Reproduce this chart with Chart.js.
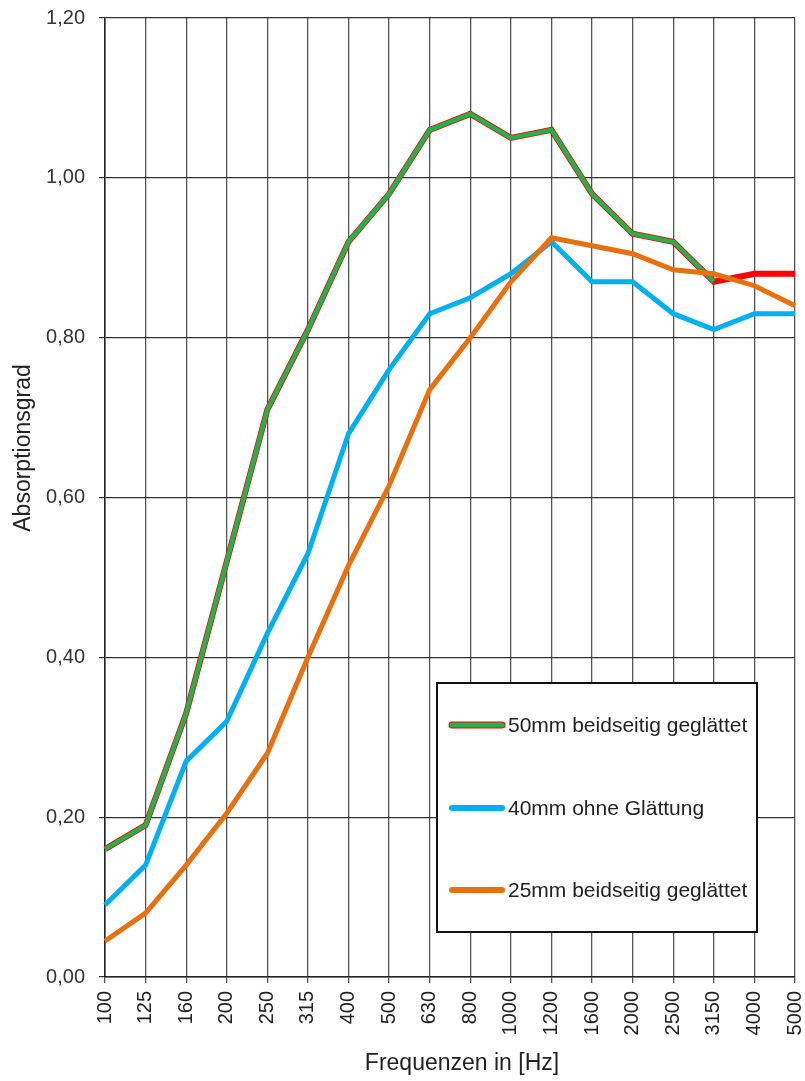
<!DOCTYPE html>
<html lang="de">
<head>
    <meta charset="UTF-8">
    <title>Absorptionsgrad</title>
    <script src="https://cdn.jsdelivr.net/npm/chart.js"></script>
    <style>
        body { margin: 0; padding: 0; background: #ffffff; }
        #wrap { width: 805px; height: 1081px; position: relative; }
    </style>
</head>
<body>
    <div id="wrap"><canvas id="absChart"></canvas></div>

    <script>
        // Data
        const frequencies = ['100', '125', '160', '200', '250', '315', '400', '500', '630', '800',
                             '1000', '1200', '1600', '2000', '2500', '3150', '4000', '5000'];
        const values50green = [0.16, 0.19, 0.33, 0.52, 0.71, 0.81, 0.92, 0.98, 1.06, 1.08,
                               1.05, 1.06, 0.98, 0.93, 0.92, 0.87, null, null];
        const values50red = [0.16, 0.19, 0.33, 0.52, 0.71, 0.81, 0.92, 0.98, 1.06, 1.08,
                             1.05, 1.06, 0.98, 0.93, 0.92, 0.87, 0.88, 0.88];
        const values40 = [0.09, 0.14, 0.27, 0.32, 0.43, 0.53, 0.68, 0.76, 0.83, 0.85,
                          0.88, 0.92, 0.87, 0.87, 0.83, 0.81, 0.83, 0.83];
        const values25 = [0.045, 0.08, 0.14, 0.205, 0.28, 0.40, 0.515, 0.615, 0.735, 0.80,
                          0.87, 0.925, 0.915, 0.905, 0.885, 0.88, 0.865, 0.84];
        const legendLabels = ['50mm beidseitig geglättet', '40mm ohne Glättung', '25mm beidseitig geglättet'];
        const xTitle = 'Frequenzen in [Hz]';
        const yTitle = 'Absorptionsgrad';

        const fontFamily = "'Liberation Sans', Arial, sans-serif";

        // Legend box + axis titles, drawn by hand (positions as in the original)
        const extras = {
            id: 'extras',
            afterDatasetsDraw(chart) {
                const ctx = chart.ctx;
                const x = 437, y = 683, w = 320, h = 249;
                ctx.save();
                ctx.fillStyle = '#ffffff';
                ctx.fillRect(x, y, w, h);
                ctx.strokeStyle = '#111111';
                ctx.lineWidth = 2;
                ctx.strokeRect(x, y, w, h);

                const rows = [
                    { y: 725, colors: ['#ff0000', '#22b14c'], widths: [7, 5] },
                    { y: 808, colors: ['#00b0f0'], widths: [6] },
                    { y: 890, colors: ['#e8700e'], widths: [6] }
                ];
                ctx.lineCap = 'round';
                rows.forEach((r, i) => {
                    r.colors.forEach((c, j) => {
                        ctx.strokeStyle = c;
                        ctx.lineWidth = r.widths[j];
                        ctx.beginPath();
                        ctx.moveTo(452, r.y);
                        ctx.lineTo(502, r.y);
                        ctx.stroke();
                    });
                    ctx.fillStyle = '#222222';
                    ctx.font = '21px ' + fontFamily;
                    ctx.textBaseline = 'middle';
                    ctx.textAlign = 'left';
                    ctx.fillText(legendLabels[i], 508, r.y + 1);
                });
                ctx.restore();
            },
            afterDraw(chart) {
                const ctx = chart.ctx;
                ctx.save();
                ctx.fillStyle = '#222222';
                ctx.font = '23px ' + fontFamily;
                ctx.textAlign = 'center';
                ctx.textBaseline = 'middle';
                ctx.fillText(xTitle, 462, 1064);
                ctx.translate(24, 448);
                ctx.rotate(-Math.PI / 2);
                ctx.fillText(yTitle, 0, 0);
                ctx.restore();
            }
        };

        const chartContext = document.getElementById('absChart').getContext('2d');
        const absChart = new Chart(chartContext, {
            type: 'line',
            data: {
                labels: frequencies,
                datasets: [
                    {
                        label: legendLabels[2],
                        data: values25,
                        borderColor: '#e8700e',
                        borderWidth: 5,
                        order: 0
                    },
                    {
                        label: legendLabels[0],
                        data: values50green,
                        borderColor: '#22b14c',
                        borderWidth: 4.5,
                        order: 1
                    },
                    {
                        label: legendLabels[0] + ' (rot)',
                        data: values50red,
                        borderColor: '#ff0000',
                        borderWidth: 6,
                        order: 2
                    },
                    {
                        label: legendLabels[1],
                        data: values40,
                        borderColor: '#00b0f0',
                        borderWidth: 5,
                        order: 3
                    }
                ]
            },
            options: {
                responsive: true,
                maintainAspectRatio: false,
                animation: false,
                elements: {
                    point: { radius: 0 },
                    line: { tension: 0, borderJoinStyle: 'miter', borderCapStyle: 'butt' }
                },
                layout: { padding: { top: 18, right: 10, bottom: 0, left: 0 } },
                scales: {
                    x: {
                        offset: false,
                        grid: { color: '#555555', lineWidth: 1.3, tickLength: 6, drawTicks: true },
                        border: { color: '#222222', width: 1.5 },
                        ticks: {
                            color: '#222222',
                            font: { family: fontFamily, size: 20 },
                            minRotation: 90,
                            maxRotation: 90,
                            autoSkip: false,
                            padding: 8
                        },
                        afterFit(scale) {
                            scale.height = 104;
                            scale.paddingRight = 0;
                            scale.paddingLeft = 0;
                        }
                    },
                    y: {
                        min: 0,
                        max: 1.2,
                        grid: { color: '#333333', lineWidth: 1.2, tickLength: 6 },
                        border: { color: '#222222', width: 1.5 },
                        ticks: {
                            stepSize: 0.2,
                            color: '#333333',
                            font: { family: fontFamily, size: 20 },
                            padding: 14,
                            callback: (v) => v.toFixed(2).replace('.', ',')
                        },
                        afterFit(scale) {
                            scale.width = 105;
                            scale.paddingTop = 0;
                            scale.paddingBottom = 0;
                        }
                    }
                },
                plugins: {
                    legend: { display: false },
                    tooltip: { enabled: false }
                }
            },
            plugins: [extras]
        });
    </script>
</body>
</html>
